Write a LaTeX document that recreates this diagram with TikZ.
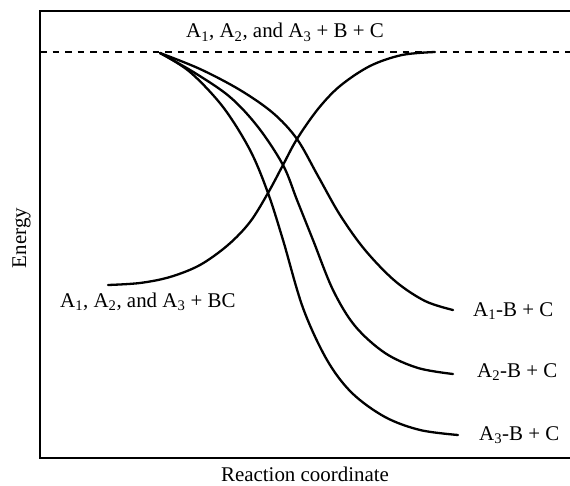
\documentclass[tikz,border=0pt]{standalone}
\usepackage{fontspec}
\setmainfont{Liberation Serif}
\usepackage{tikz}
\usetikzlibrary{positioning, calc}
\tikzset{
  lbl/.style={font=\fontsize{21}{25}\selectfont, inner sep=0pt},
  curve/.style={line width=2.3bp, line join=round, line cap=round},
  frame/.style={line width=2.6bp},
  level/.style={line width=2.3bp, dash pattern=on 6.5bp off 6bp}
}
\begin{document}
\begin{tikzpicture}[x=1bp, y=-1bp]
        \useasboundingbox (0,0) rectangle (570,486);
        \draw[frame] (572,11) -- (40,11) -- (40,458) -- (572,458);
        \draw[level] (40,52) -- (572,52);
        \coordinate (start) at (160,53);
        \coordinate (reac) at (108,285);
        \coordinate (prod) at (435,52);
        \coordinate (end1) at (453,310);
        \coordinate (end2) at (453,374);
        \coordinate (end3) at (458,435);
        % rising curve
        \draw[curve] plot[smooth, tension=0.55] coordinates {(reac) (140,283) (170,277)
            (200,265) (228,245) (250,222) (268,193) (283,165) (297,139) (318,109)
            (340,86) (370,66) (402,55) (prod)};
        % falling curves
        \draw[curve] plot[smooth, tension=0.55] coordinates {(start) (200,69) (240,90)
            (273,113) (297,139) (318,176) (340,215) (365,250) (395,281) (425,301) (end1)};
        \draw[curve] plot[smooth, tension=0.55] coordinates {(start) (195,73) (230,97)
            (258,127) (283,165) (297,200) (313,240) (333,290) (355,326) (385,353)
            (418,368) (end2)};
        \draw[curve] plot[smooth, tension=0.55] coordinates {(start) (190,72) (223,107)
            (250,150) (268,193) (283,240) (303,308) (327,360) (352,393) (385,417)
            (420,430) (end3)};
        \node[lbl, anchor=base west] (toplbl) at (186,38) {A\textsubscript{1}, A\textsubscript{2}, and A\textsubscript{3} + B + C};
        \node[lbl, anchor=base west] (reaclbl) at (60,307) {A\textsubscript{1}, A\textsubscript{2}, and A\textsubscript{3} + BC};
        \node[lbl, anchor=base west] (p1lbl) at (473,316) {A\textsubscript{1}-B + C};
        \node[lbl, anchor=base west] (p2lbl) at (477,377) {A\textsubscript{2}-B + C};
        \node[lbl, anchor=base west] (p3lbl) at (479,440) {A\textsubscript{3}-B + C};
        \node[lbl, anchor=base] (xlbl) at (305,481) {Reaction coordinate};
        \node[lbl, anchor=base, rotate=90] (ylbl) at (26,238) {Energy};
      \end{tikzpicture}
\end{document}
